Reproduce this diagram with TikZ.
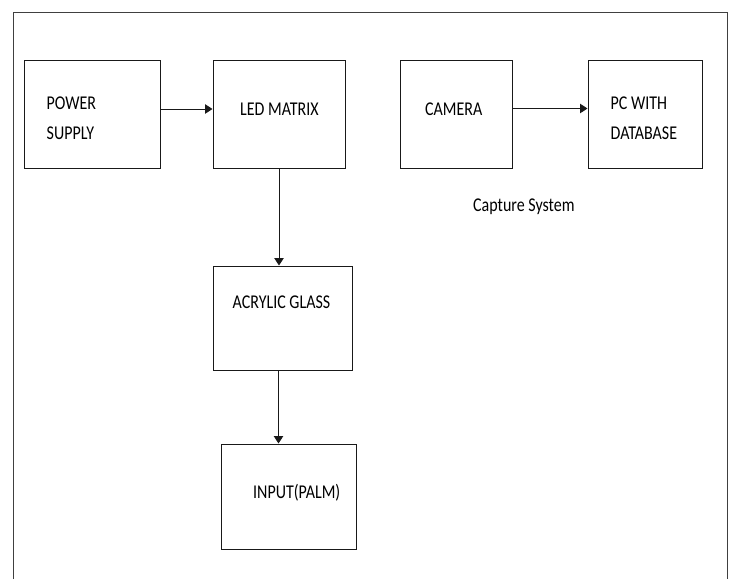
\documentclass[tikz,border=0pt]{standalone}
\usepackage{fontspec}
\setmainfont{Carlito}[FakeStretch=0.82]
\usetikzlibrary{arrows.meta}
\tikzset{
  blk/.style={draw=black!90, line width=1pt, rectangle, inner sep=0pt},
  lbl/.style={anchor=base west, inner sep=0pt, font=\fontsize{19.5}{19.5}\selectfont, text=black},
  arr/.style={draw=black!90, line width=1pt, -{Triangle[length=7.5pt,width=9.5pt]}},
  frame/.style={draw=black!75, line width=1pt}
}
\begin{document}
\begin{tikzpicture}[x=1pt,y=-1pt]
\useasboundingbox (0,0) rectangle (731,579);
\draw[frame] (13.5,579) -- (13.5,12.5) -- (727.5,12.5) -- (727.5,579);
% boxes
\node[blk, minimum width=136pt, minimum height=108pt] (ps) at (92,114) {};
\node[blk, minimum width=132pt, minimum height=108pt] (led) at (279,114) {};
\node[blk, minimum width=112pt, minimum height=108pt] (cam) at (456,114) {};
\node[blk, minimum width=114pt, minimum height=108pt] (pc) at (645,114) {};
\node[blk, minimum width=139pt, minimum height=104pt] (acr) at (282.5,318) {};
\node[blk, minimum width=135pt, minimum height=105pt] (inp) at (288.5,496.5) {};
% labels
\node[lbl] (t1) at (46.5,109) {POWER};
\node[lbl] (t2) at (46.5,139) {SUPPLY};
\node[lbl] (t3) at (240,115) {LED MATRIX};
\node[lbl] (t4) at (425,115) {CAMERA};
\node[lbl] (t5) at (610.5,109) {PC WITH};
\node[lbl] (t6) at (610.5,139.5) {DATABASE};
\node[lbl] (t7) at (473,211) {Capture System};
\node[lbl] (t8) at (232.5,308) {ACRYLIC GLASS};
\node[lbl] (t9) at (253,498) {INPUT(PALM)};
% connectors
\draw[arr] ([yshift=5pt]ps.east) -- ([yshift=5pt]led.west);
\draw[arr] ([yshift=5.5pt]cam.east) -- ([yshift=5.5pt]pc.west);
\draw[arr] (led.south) -- (led.south |- acr.north);
\draw[arr] ([xshift=-0.5pt]led.south |- acr.south) -- ([xshift=-0.5pt]led.south |- inp.north);
\end{tikzpicture}
\end{document}
